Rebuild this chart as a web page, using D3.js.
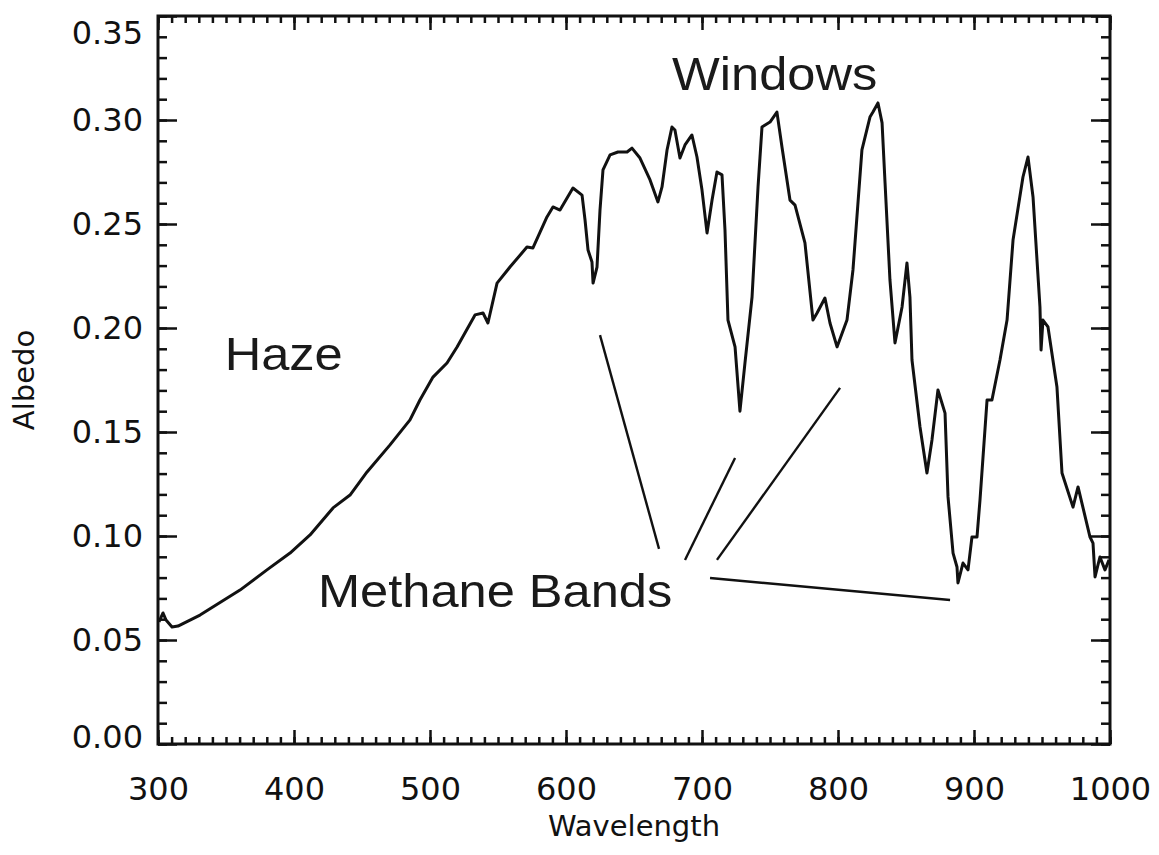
<!DOCTYPE html>
<html>
<head>
<meta charset="utf-8">
<script src="https://cdn.jsdelivr.net/npm/d3@7"></script>
<style>
    body { margin: 0; background: #fff; }
    .tick text { font-family: 'DejaVu Sans', sans-serif; font-size: 32px; fill: #111; }
    .tick line { stroke: #111; stroke-width: 2.5px; }
    .axis .domain { display: none; }
    .title { font-family: 'DejaVu Sans', sans-serif; font-size: 29px; fill: #111; }
    .note { font-family: 'Liberation Sans', Arial, sans-serif; font-size: 46px; fill: #1a1a1a; }
</style>
</head>
<body>
<div id="vis"></div>
<script>

// spectrum
var wavelength = [300.7, 303.7, 305.9, 310.3, 314.7, 330.9, 360.3, 380.1, 397.1, 411.8,
    428.7, 441.2, 453.7, 470.6, 485.3, 492.6, 502.2, 512.5, 519.9, 533.1,
    539.0, 542.6, 549.3, 558.8, 571.3, 575.7, 586.0, 590.4, 595.6, 605.1,
    611.8, 614.0, 616.2, 619.1, 619.9, 622.8, 625.0, 627.2, 632.4, 638.2,
    644.9, 648.5, 654.4, 661.8, 667.6, 670.6, 674.3, 677.9, 680.1, 683.8,
    687.5, 692.6, 696.3, 700.0, 703.7, 707.4, 711.0, 714.7, 716.9, 719.1,
    724.3, 727.9, 731.6, 736.8, 741.2, 744.1, 750.0, 755.1, 758.8, 764.7,
    768.4, 775.7, 781.6, 784.6, 790.4, 794.1, 799.3, 806.6, 811.0, 817.6,
    823.5, 825.7, 829.4, 832.4, 834.6, 838.2, 841.9, 847.1, 850.7, 852.9,
    854.4, 860.3, 865.4, 869.1, 873.5, 878.7, 880.9, 884.6, 887.5, 888.2,
    891.9, 895.6, 898.5, 902.2, 904.4, 909.6, 913.2, 919.1, 924.3, 928.7,
    936.0, 939.7, 943.4, 948.5, 949.3, 950.7, 954.4, 961.0, 964.7, 972.8,
    976.5, 985.3, 987.5, 989.0, 992.6, 996.3, 999.3];

var albedo = [0.0587, 0.0630, 0.0596, 0.0563, 0.0567, 0.0620, 0.0740, 0.0837, 0.0918, 0.1005,
    0.1135, 0.1197, 0.1308, 0.1438, 0.1558, 0.1654, 0.1764, 0.1832, 0.1909, 0.2063,
    0.2072, 0.2024, 0.2216, 0.2293, 0.2389, 0.2385, 0.2534, 0.2582, 0.2567, 0.2673,
    0.2639, 0.2519, 0.2375, 0.2317, 0.2216, 0.2293, 0.2567, 0.2760, 0.2832, 0.2846,
    0.2846, 0.2865, 0.2817, 0.2712, 0.2606, 0.2678, 0.2856, 0.2966, 0.2952, 0.2817,
    0.2880, 0.2928, 0.2822, 0.2663, 0.2457, 0.2615, 0.2750, 0.2736, 0.2471, 0.2038,
    0.1909, 0.1600, 0.1832, 0.2149, 0.2678, 0.2966, 0.2990, 0.3038, 0.2870, 0.2615,
    0.2591, 0.2409, 0.2038, 0.2072, 0.2144, 0.2024, 0.1909, 0.2038, 0.2279, 0.2856,
    0.3014, 0.3038, 0.3082, 0.2986, 0.2697, 0.2231, 0.1928, 0.2101, 0.2313, 0.2149,
    0.1846, 0.1524, 0.1303, 0.1462, 0.1702, 0.1591, 0.1188, 0.0918, 0.0851, 0.0774,
    0.0870, 0.0837, 0.0995, 0.0995, 0.1173, 0.1654, 0.1654, 0.1846, 0.2038, 0.2423,
    0.2726, 0.2822, 0.2630, 0.2101, 0.1894, 0.2038, 0.2005, 0.1716, 0.1303, 0.1139,
    0.1236, 0.0995, 0.0966, 0.0803, 0.0899, 0.0837, 0.0885];

var xTicks = [300, 400, 500, 600, 700, 800, 900, 1000];
var yTicks = [0, 0.05, 0.10, 0.15, 0.20, 0.25, 0.30, 0.35];

var labels = ['Haze', 'Windows', 'Methane Bands'];
var labelAt = [[349, 0.180], [678, 0.3144], [417.6, 0.0659]];

// leader lines from "Methane Bands" to the absorption dips
var leaders = [
    [[625, 0.1966], [668.4, 0.0938]],
    [[724.3, 0.1375], [687.5, 0.0885]],
    [[801.5, 0.1712], [711, 0.0885]],
    [[705.9, 0.0798], [882.4, 0.0692]]
];

var width = 1159;
var height = 855;
var margin = { left: 158, top: 16, right: 49, bottom: 111 };
var drawWidth = width - margin.left - margin.right;
var drawHeight = height - margin.top - margin.bottom;

var svg = d3.select('#vis')
    .append('svg')
    .attr('width', width)
    .attr('height', height);

var g = svg.append('g')
    .attr('transform', 'translate(' + margin.left + ',' + margin.top + ')');

var xScale = d3.scaleLinear().domain([300, 1000]).range([0, drawWidth]);
var yScale = d3.scaleLinear().domain([0, 0.35]).range([drawHeight, 0]);

var xMinor = d3.range(300, 1001, 10);
var yMinor = d3.range(0, 36).map(function(d) { return d / 100; });

// minor ticks, all four sides
g.append('g').attr('class', 'axis')
    .attr('transform', 'translate(0,' + drawHeight + ')')
    .call(d3.axisBottom(xScale).tickValues(xMinor).tickSize(-7).tickSizeOuter(0).tickFormat(''));
g.append('g').attr('class', 'axis')
    .call(d3.axisTop(xScale).tickValues(xMinor).tickSize(-7).tickSizeOuter(0).tickFormat(''));
g.append('g').attr('class', 'axis')
    .call(d3.axisLeft(yScale).tickValues(yMinor).tickSize(-9).tickSizeOuter(0).tickFormat(''));
g.append('g').attr('class', 'axis')
    .attr('transform', 'translate(' + drawWidth + ',0)')
    .call(d3.axisRight(yScale).tickValues(yMinor).tickSize(-9).tickSizeOuter(0).tickFormat(''));

// major ticks
g.append('g').attr('class', 'axis')
    .attr('transform', 'translate(0,' + drawHeight + ')')
    .call(d3.axisBottom(xScale).tickValues(xTicks).tickSize(-14).tickSizeOuter(0).tickPadding(33)
        .tickFormat(d3.format('d')));
g.append('g').attr('class', 'axis')
    .call(d3.axisTop(xScale).tickValues(xTicks).tickSize(-14).tickSizeOuter(0).tickFormat(''));
var yAxisLabel = g.append('g').attr('class', 'axis')
    .call(d3.axisLeft(yScale).tickValues(yTicks).tickSize(-19).tickSizeOuter(0).tickPadding(15)
        .tickFormat(d3.format('.2f')));
g.append('g').attr('class', 'axis')
    .attr('transform', 'translate(' + drawWidth + ',0)')
    .call(d3.axisRight(yScale).tickValues(yTicks).tickSize(-19).tickSizeOuter(0).tickFormat(''));

// top label sits a bit below its tick so it stays inside the page
yAxisLabel.selectAll('.tick text')
    .filter(function(d) { return d === d3.max(yTicks); })
    .attr('y', 17);
yAxisLabel.selectAll('.tick text')
    .filter(function(d) { return d === 0; })
    .attr('y', -7);

g.append('rect')
    .attr('width', drawWidth)
    .attr('height', drawHeight)
    .attr('fill', 'none')
    .attr('stroke', '#111')
    .attr('stroke-width', 3);

var line = d3.line()
    .x(function(d) { return xScale(d[0]); })
    .y(function(d) { return yScale(d[1]); });

g.append('path')
    .datum(d3.zip(wavelength, albedo))
    .attr('d', line)
    .attr('fill', 'none')
    .attr('stroke', '#111')
    .attr('stroke-width', 3)
    .attr('stroke-linejoin', 'round');

g.selectAll('.leader')
    .data(leaders)
    .enter().append('path')
    .attr('class', 'leader')
    .attr('d', line)
    .attr('stroke', '#111')
    .attr('stroke-width', 2.4);

g.selectAll('.note')
    .data(labels)
    .enter().append('text')
    .attr('class', 'note')
    .attr('transform', function(d, i) {
        return 'translate(' + xScale(labelAt[i][0]) + ',' + yScale(labelAt[i][1]) + ') scale(1.1,1)';
    })
    .text(function(d) { return d; });

svg.append('text')
    .attr('class', 'title')
    .attr('text-anchor', 'middle')
    .attr('transform', 'translate(' + (margin.left + drawWidth / 2) + ',836)')
    .text('Wavelength');

svg.append('text')
    .attr('class', 'title')
    .attr('text-anchor', 'middle')
    .attr('transform', 'translate(34,' + (margin.top + drawHeight / 2) + ') rotate(-90)')
    .text('Albedo');

</script>
</body>
</html>
